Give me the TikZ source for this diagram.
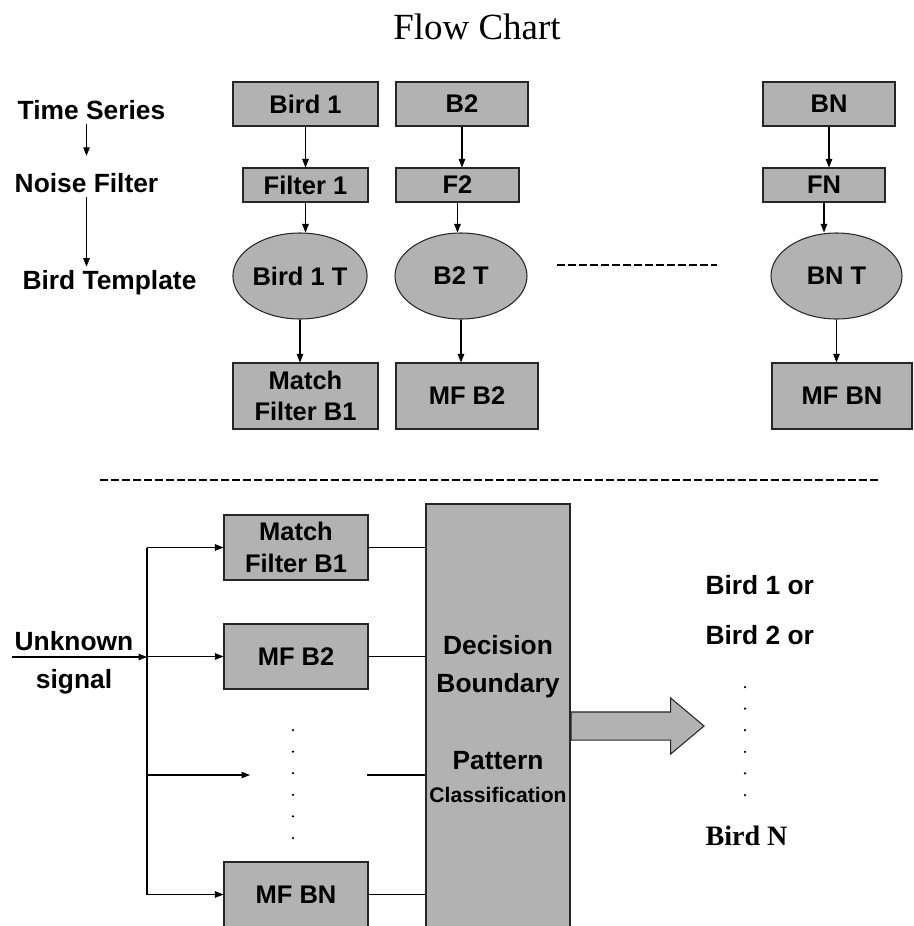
\documentclass[tikz,border=0pt]{standalone}
\usepackage{fontspec}
\setmainfont{Liberation Sans}
\newfontfamily\timesfont{Liberation Serif}
\usetikzlibrary{arrows.meta,shapes.geometric,shapes.arrows}
\definecolor{boxgray}{RGB}{178,178,178}

\begin{document}
\begin{tikzpicture}[
  box/.style={draw=black!85, fill=boxgray, inner sep=0pt, align=center,
              font=\bfseries\fontsize{14.5}{18}\selectfont},
  tpl/.style={ellipse, draw=black!85, fill=boxgray, inner sep=0pt,
              font=\bfseries\fontsize{14.5}{18}\selectfont},
  lbl/.style={inner sep=2pt, align=center,
              font=\bfseries\fontsize{15}{21.5}\selectfont},
  dsh/.style={line width=0.05cm, dash pattern=on 0.16cm off 0.06cm},
  >={Triangle[length=0.17cm,width=0.13cm]}, line width=0.6pt
]
  \useasboundingbox (0,0) rectangle (18.28,-18.52);
  \clip (0,0) rectangle (18.28,-18.52);

  \node[font=\timesfont\fontsize{21}{25}\selectfont] (title) at (9.54,-0.53) {Flow Chart};

  % steps on the left
  \node[lbl] (ts) at (1.83,-2.21) {Time Series};
  \node[lbl] (nf) at (1.73,-3.67) {Noise Filter};
  \node[lbl] (bt) at (2.19,-5.66) {Bird Template};
  \draw[->, shorten >=0.28cm] (ts.south -| nf.north) -- (nf.north);
  \draw[->] (nf.south) -- (nf.south |- bt.north);

  % one column per bird
  \node[box, minimum width=2.90cm, minimum height=0.88cm] (b1) at (6.11,-2.08)  {Bird 1};
  \node[box, minimum width=2.64cm, minimum height=0.88cm] (b2) at (9.24,-2.08)  {B2};
  \node[box, minimum width=2.64cm, minimum height=0.88cm] (bn) at (16.58,-2.08) {BN};

  \node[box, minimum width=2.50cm, minimum height=0.68cm] (f1) at (6.11,-3.70)  {Filter 1};
  \node[box, minimum width=2.46cm, minimum height=0.68cm] (f2) at (9.15,-3.70)  {F2};
  \node[box, minimum width=2.44cm, minimum height=0.68cm] (fn) at (16.48,-3.70) {FN};

  \node[tpl, minimum width=2.68cm, minimum height=1.72cm] (t1) at (6.00,-5.52)  {Bird 1 T};
  \node[tpl, minimum width=2.64cm, minimum height=1.72cm] (t2) at (9.22,-5.52)  {B2 T};
  \node[tpl, minimum width=2.62cm, minimum height=1.72cm] (tn) at (16.73,-5.52) {BN T};

  \node[box, minimum width=2.90cm, minimum height=1.32cm] (m1) at (6.11,-7.92)  {Match\\Filter B1};
  \node[box, minimum width=2.84cm, minimum height=1.32cm] (m2) at (9.34,-7.92)  {MF B2};
  \node[box, minimum width=2.80cm, minimum height=1.32cm] (mn) at (16.84,-7.92) {MF BN};

  \foreach \c in {1,2,n} {
    \draw[->] (b\c.south) -- (b\c.south |- f\c.north);
    \draw[->] (f\c.south) -- (f\c.south |- t\c.north);
    \draw[->] (t\c.south) -- (t\c.south |- m\c.north);
  }

  \draw[dsh] (11.14,-5.30) -- (14.34,-5.30);
  \draw[dsh] (2.00,-9.60) -- (17.56,-9.60);

  % matched filter bank
  \node[box, minimum width=2.88cm, minimum height=1.30cm] (bank1) at (5.92,-10.95) {Match\\Filter B1};
  \node[box, minimum width=2.88cm, minimum height=1.30cm] (bank2) at (5.92,-13.13) {MF B2};
  \node[box, minimum width=2.88cm, minimum height=1.30cm] (bankn) at (5.92,-17.89) {MF BN};
  \foreach \i in {0,...,5}
    \fill (5.86,-14.60-0.432*\i) circle (0.025);
  \coordinate (dl) at (5.00,-15.50);
  \coordinate (dr) at (7.34,-15.50);

  \node[draw=black!85, fill=boxgray, minimum width=2.88cm, minimum height=8.88cm,
        inner sep=0pt] (dec) at (9.96,-14.52) {};
  \node[lbl] (dec1) at (9.96,-13.34) {Decision\\Boundary};
  \node[lbl] (dec2) at (9.96,-15.21) {Pattern};
  \node[lbl, font=\bfseries\fontsize{12}{14}\selectfont] (dec3) at (9.96,-15.89) {Classification};

  % input signal to every filter
  \coordinate (in) at (0.24,-13.14);
  \coordinate (split) at (2.94,-13.14);
  \node[lbl] (unk) at (1.48,-13.25) {Unknown\\signal};
  \draw[->] (in) -- (split);
  \draw (split |- bank1.west) -- (split |- bankn.west);
  \foreach \k in {1,2,n}
    \draw[->] (split |- bank\k.west) -- (bank\k.west);
  \draw[->] (split |- dl) -- (dl);
  \foreach \k in {1,2,n}
    \draw (bank\k.east) -- (bank\k.east -| dec.west);
  \draw (dr) -- (dr -| dec.west);

  % result
  \node[single arrow, draw=black!85, fill=boxgray, minimum height=2.66cm,
        minimum width=1.10cm, single arrow head extend=0.28cm,
        single arrow tip angle=80, inner xsep=0pt, inner ysep=0.27cm,
        anchor=tail] (res) at (dec.east) {};
  \node[lbl, anchor=west, inner sep=0pt] (o1) at (14.10,-11.71) {Bird 1 or};
  \node[lbl, anchor=west, inner sep=0pt] (o2) at (14.10,-12.71) {Bird 2 or};
  \foreach \i in {0,...,5}
    \fill (14.90,-13.74-0.432*\i) circle (0.025);
  \node[anchor=west, inner sep=0pt, font=\timesfont\bfseries\fontsize{16}{19}\selectfont]
    (on) at (14.10,-16.71) {Bird N};
\end{tikzpicture}
\end{document}
